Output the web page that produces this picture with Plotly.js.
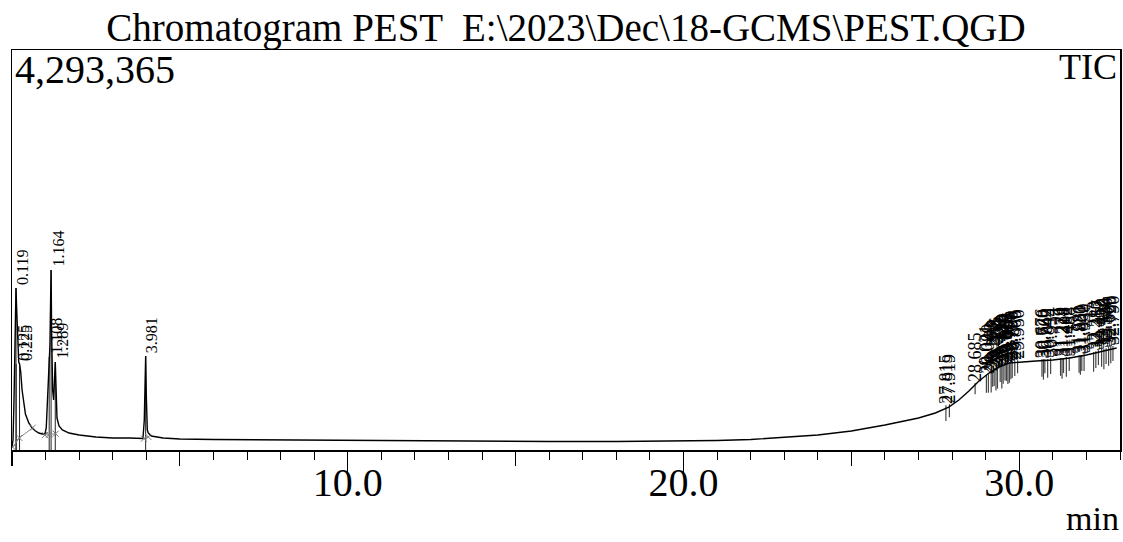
<!DOCTYPE html>
<html>
<head>
<meta charset="utf-8">
<script src="https://cdn.plot.ly/plotly-3.0.1.min.js"></script>
<style>html,body{margin:0;padding:0;background:#fff;}#chart{width:1123px;height:542px;}</style>
</head>
<body>
<div id="chart"></div>
<script>
// Retention time (min) and TIC intensity
const ticTime = [0.00,0.03,0.06,0.09,0.119,0.14,0.17,0.20,0.225,0.26,0.30,0.35,0.40,0.50,0.60,0.70,0.80,0.90,0.98,
  1.02,1.06,1.09,1.108,1.13,1.15,1.164,1.18,1.21,1.24,1.27,1.289,1.31,1.34,1.40,1.50,1.70,2.00,2.50,3.00,3.50,3.90,
  3.94,3.96,3.981,4.00,4.03,4.06,4.15,4.50,5.0,6.0,8.0,10.0,12.0,14.0,16.0,18.0,20.0,21.0,22.0,23.0,24.0,25.0,26.0,
  27.0,27.5,27.9,28.2,28.5,28.8,29.1,29.4,29.7,30.0,30.5,31.0,31.5,32.0,32.5,32.9];
const ticIntensity = [32000,107000,537000,1395000,1739000,1503000,1127000,944000,923000,837000,644000,483000,386000,290000,236000,204000,182000,172000,172000,
  236000,590000,944000,998000,1127000,1610000,1932000,1288000,644000,537000,859000,944000,698000,343000,258000,215000,182000,161000,140000,129000,129000,123000,
  322000,751000,1009000,590000,215000,182000,150000,129000,118000,113000,107000,102000,97000,97000,91000,91000,97000,102000,113000,134000,161000,204000,268000,
  343000,397000,461000,537000,633000,741000,826000,891000,934000,944000,955000,966000,988000,1020000,1063000,1095000];

// Labelled peaks
const earlyPeakTime = [0.119,0.125,0.225,1.108,1.164,1.289,3.981];
const earlyPeakHeight = [1739000,923000,923000,998000,1932000,944000,1009000];
const latePeakTime = [27.815,27.919,28.685,29.021,29.080,29.163,29.208,29.252,29.306,29.351,29.432,29.480,29.520,29.575,29.618,29.661,
  29.705,29.750,29.790,29.866,29.950,30.676,30.720,30.762,30.845,30.934,31.229,31.274,31.318,31.402,31.488,31.781,31.820,31.862,31.930,
  32.213,32.280,32.357,32.452,32.520,32.586,32.660,32.725,32.790];
const latePeakHeight = [461000,472000,698000,784000,794000,816000,830000,848000,858000,869000,880000,891000,902000,907000,912000,918000,
  923000,930000,934000,934000,944000,955000,955000,955000,955000,966000,966000,966000,966000,977000,977000,998000,998000,998000,1009000,
  1030000,1041000,1052000,1063000,1068000,1073000,1084000,1090000,1095000];
const latePeakDrop = [150000,120000,100000,170000,180000,200000,150000,160000,220000,210000,150000,230000,190000,160000,170000,210000,
  200000,170000,160000,140000,120000,170000,200000,130000,180000,150000,170000,200000,140000,190000,130000,170000,190000,150000,160000,
  190000,160000,140000,170000,200000,150000,180000,160000,140000];

// Integration baselines
const baseTime = [0.02,0.22,0.62,null,0.98,1.10,1.30,null,3.93,4.06];
const baseHeight = [30000,130000,240000,null,160000,165000,175000,null,122000,140000];

// Axis text
const tickValues = [10,20,30];
const tickLabels = ['10.0','20.0','30.0'];
const maxIntensity = 4293365;

const serif = 'Liberation Serif';

// drop lines of early peaks
const dropX = [], dropY = [];
earlyPeakTime.forEach((t,i)=>{ dropX.push(t,t,null); dropY.push(earlyPeakHeight[i],0,null); });
// spikes below late peaks
const spikeX = [], spikeY = [];
latePeakTime.forEach((t,i)=>{ spikeX.push(t,t,null); spikeY.push(latePeakHeight[i]+20000,latePeakHeight[i]-latePeakDrop[i],null); });

const traces = [
  {x: baseTime, y: baseHeight, xaxis:'x2', mode:'lines+markers', line:{color:'#888',width:1}, marker:{symbol:'x-thin',size:6,line:{color:'#777',width:1}}, hoverinfo:'skip', connectgaps:false},
  {x: dropX, y: dropY, mode:'lines', line:{color:'#222',width:1}, hoverinfo:'skip'},
  {x: spikeX, y: spikeY, mode:'lines', line:{color:'#444',width:1.2}, hoverinfo:'skip'},
  {x: ticTime, y: ticIntensity, mode:'lines', line:{color:'#000',width:1.4}, hoverinfo:'skip'}
];

const annotations = [];
earlyPeakTime.forEach((t,i)=>{
  annotations.push({x:t, y:earlyPeakHeight[i], xref:'x', yref:'y', text:t.toFixed(3), showarrow:false, textangle:-90,
    xanchor:'left', yanchor:'bottom', xshift:-4, yshift:1, font:{family:serif,size:16,color:'#000'}});
});
latePeakTime.forEach((t,i)=>{
  annotations.push({x:t, y:latePeakHeight[i], xref:'x', yref:'y', text:t.toFixed(3), showarrow:false, textangle:-90,
    xanchor:'center', yanchor:'bottom', yshift:1, font:{family:serif,size:18,color:'#000'}});
});
annotations.push({xref:'paper',yref:'paper',x:0,y:1,xanchor:'left',yanchor:'top',xshift:1,yshift:5,text:'4,293,365',showarrow:false,font:{family:serif,size:40,color:'#000'}});
annotations.push({xref:'paper',yref:'paper',x:1,y:1,xanchor:'right',yanchor:'top',xshift:-1,yshift:5,text:'TIC',showarrow:false,font:{family:serif,size:36,color:'#000'}});
annotations.push({xref:'paper',yref:'paper',x:1,y:-0.17,xanchor:'right',yanchor:'middle',xshift:1,text:'min',showarrow:false,font:{family:serif,size:34,color:'#000'}});

const layout = {
  width:1123, height:542,
  margin:{l:12,r:3,t:50,b:92},
  paper_bgcolor:'#fff', plot_bgcolor:'#fff',
  showlegend:false,
  title:{text:'Chromatogram PEST  E:\\2023\\Dec\\18-GCMS\\PEST.QGD', font:{family:serif,size:39,color:'#000'},
    xref:'paper', x:0.5, xanchor:'center', yref:'container', y:0.95, yanchor:'middle'},
  xaxis:{range:[0,33], showline:true, mirror:true, linecolor:'#000', linewidth:1.5, showgrid:false, zeroline:false,
    ticks:'outside', tickmode:'linear', tick0:0, dtick:5, ticklen:14, tickcolor:'#000', tickwidth:1.2, showticklabels:false,
    minor:{ticks:'outside', dtick:1, ticklen:8, tickcolor:'#000', tickwidth:1, showgrid:false}},
  xaxis2:{range:[0,33], overlaying:'x', anchor:'y', side:'bottom', showline:false, showgrid:false, zeroline:false,
    tickmode:'array', tickvals:tickValues, ticktext:tickLabels, ticks:'outside', ticklen:21, tickcolor:'#000', tickwidth:1.2,
    ticklabelstandoff:-24, tickfont:{family:serif,size:40,color:'#000'}},
  yaxis:{range:[0,maxIntensity], showline:true, mirror:true, linecolor:'#000', linewidth:1.5, showgrid:false, zeroline:false,
    ticks:'', showticklabels:false},
  annotations:annotations
};
Plotly.newPlot('chart', traces, layout, {displayModeBar:false, staticPlot:true});
</script>
</body>
</html>
